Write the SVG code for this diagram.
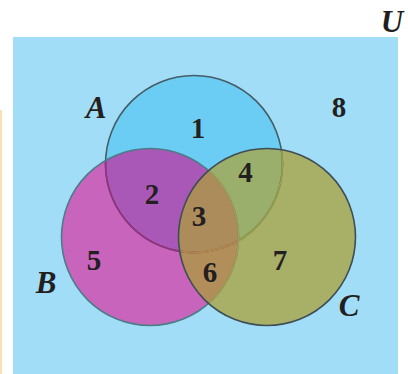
<svg xmlns="http://www.w3.org/2000/svg" width="408" height="374" viewBox="0 0 408 374">
<style>
.num{font-family:"Liberation Serif","Times New Roman",serif;font-weight:bold;font-size:29px;fill:#231f20;text-anchor:middle}
.set{font-family:"Liberation Serif","Times New Roman",serif;font-weight:bold;font-style:italic;font-size:31px;fill:#231f20;text-anchor:middle}
.st{fill:none;stroke-width:1.6}
</style>
<defs>
<circle id="cA" cx="194" cy="164" r="88.5"/>
<circle id="cB" cx="150" cy="237" r="88.5"/>
<circle id="cC" cx="267" cy="237" r="88.5"/>
<clipPath id="clipA"><use href="#cA"/></clipPath>
<clipPath id="clipB"><use href="#cB"/></clipPath>
<clipPath id="clipC"><use href="#cC"/></clipPath>
</defs>
<rect x="0" y="0" width="408" height="374" fill="#ffffff"/>
<line x1="1" y1="110" x2="1" y2="374" stroke="#f7d995" stroke-width="1.5"/>
<rect id="universe" x="13" y="37" width="385" height="337" fill="#a1ddf7"/>
<g id="regions">
<use href="#cA" fill="#6bcdf3"/>
<use href="#cB" fill="#c864bb"/>
<use href="#cC" fill="#a8b068"/>
<use href="#cB" fill="#a958b7" clip-path="url(#clipA)"/>
<use href="#cC" fill="#9aaf6b" clip-path="url(#clipA)"/>
<use href="#cC" fill="#b28e5b" clip-path="url(#clipB)"/>
<g clip-path="url(#clipA)"><use href="#cC" fill="#ac8c5b" clip-path="url(#clipB)"/></g>
</g>
<g id="outlines">
<use href="#cA" class="st" stroke="#455d68"/>
<use href="#cA" class="st" stroke="#9a2e80" clip-path="url(#clipB)"/>
<use href="#cA" class="st" stroke="#99a04a" clip-path="url(#clipC)"/>
<g clip-path="url(#clipB)"><use href="#cA" class="st" stroke="#b5864a" clip-path="url(#clipC)"/></g>
<use href="#cB" class="st" stroke="#4c7c88"/>
<use href="#cB" class="st" stroke="#a99c50" clip-path="url(#clipC)"/>
<use href="#cC" class="st" stroke="#3f4d55"/>
</g>
<g id="set-A"><text class="set" x="96" y="118">A</text></g>
<g id="set-B"><text class="set" x="46" y="293">B</text></g>
<g id="set-C"><text class="set" x="349" y="316">C</text></g>
<g id="set-U"><text class="set" x="392" y="32">U</text></g>
<g id="region-labels">
<text class="num" x="198" y="138">1</text>
<text class="num" x="152" y="204">2</text>
<text class="num" x="199" y="226">3</text>
<text class="num" x="245.5" y="182">4</text>
<text class="num" x="94" y="270">5</text>
<text class="num" x="210" y="282">6</text>
<text class="num" x="280" y="270">7</text>
<text class="num" x="339" y="117">8</text>
</g>
</svg>
